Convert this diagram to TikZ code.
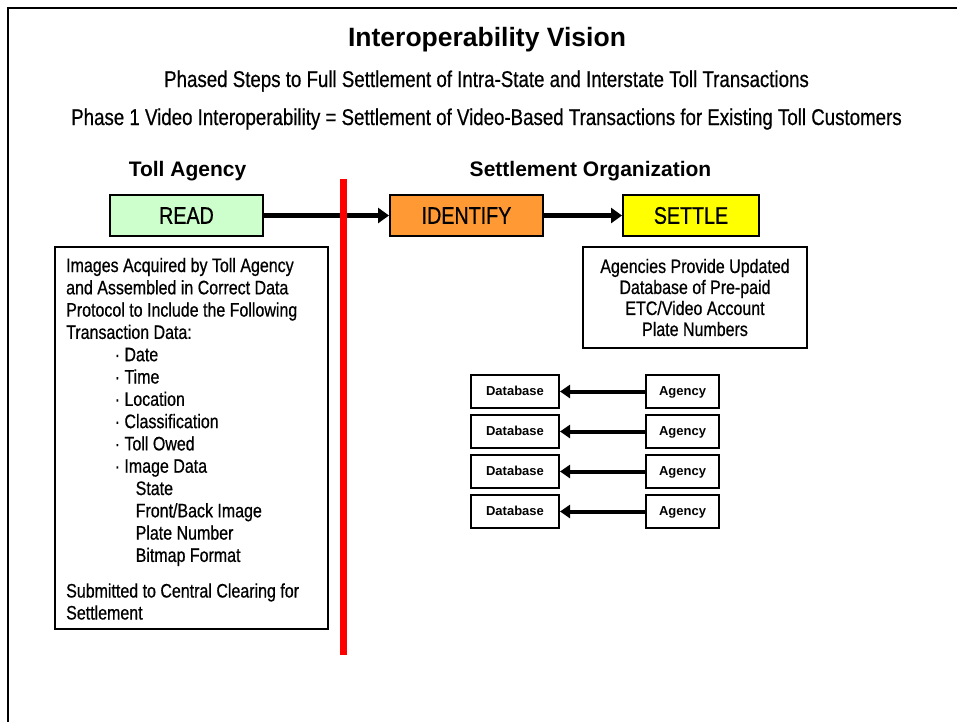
\documentclass[tikz,border=0pt]{standalone}
\usepackage{fontspec}
\setmainfont{Liberation Sans}
\newfontfamily\narrowfont[FakeStretch=0.82,FakeBold=0.6]{Liberation Sans}
\usetikzlibrary{arrows.meta}
\definecolor{readgreen}{HTML}{CCFFCC}
\definecolor{idorange}{HTML}{FF9933}
\definecolor{settleyellow}{HTML}{FFFF00}
\definecolor{barred}{HTML}{FF0000}
\begin{document}
\begin{tikzpicture}[x=1pt,y=-1pt,
  frame/.style={line width=2.5pt,black},
  stagebox/.style={draw,line width=2pt,inner sep=0pt,minimum height=41pt,
    font=\narrowfont\fontsize{24}{28}\selectfont},
  infobox/.style={draw,line width=2pt,inner sep=0pt},
  flowarrow/.style={line width=4.5pt,-{Triangle[length=11pt,width=15pt]}},
  feedarrow/.style={line width=4pt,-{Triangle[length=10pt,width=13pt]}},
  minibox/.style={draw,line width=2pt,inner sep=0pt,minimum height=33pt,
    text height=9.5pt,text depth=2.5pt,
    font=\bfseries\fontsize{13}{15}\selectfont},
  heading/.style={anchor=base,inner sep=0pt,font=\bfseries\fontsize{21}{24}\selectfont},
  subhead/.style={anchor=base,inner sep=0pt,font=\narrowfont\fontsize{22.8}{26}\selectfont},
  bodytxt/.style={anchor=base west,inner sep=0pt,font=\narrowfont\fontsize{19.5}{22}\selectfont},
  redbar/.style={line width=7pt,barred}
]
\useasboundingbox (0,0) rectangle (957,721);

% page frame (top and left edges)
\coordinate (fbl) at (8,722);
\coordinate (ftl) at (8,8);
\coordinate (ftr) at (958,8);
\draw[frame] (fbl) -- (ftl) -- (ftr);

% titles
\node[anchor=base,inner sep=0pt,font=\bfseries\fontsize{26.5}{30}\selectfont] (title) at (487,46.5) {Interoperability Vision};
\node[subhead] (sub1) at (486.5,87) {Phased Steps to Full Settlement of Intra-State and Interstate Toll Transactions};
\node[subhead] (sub2) at (486.5,125) {Phase 1 Video Interoperability = Settlement of Video-Based Transactions for Existing Toll Customers};

% column headings
\node[heading] (tollhead) at (187.5,176.5) {Toll Agency};
\node[heading] (settlehead) at (590.5,176.5) {Settlement Organization};

% process stages
\node[stagebox,fill=readgreen,minimum width=153pt] (read) at (186.5,215.5) {READ};
\node[stagebox,fill=idorange,minimum width=153pt] (identify) at (466.5,215.5) {IDENTIFY};
\node[stagebox,fill=settleyellow,minimum width=136pt] (settle) at (691,215.5) {SETTLE};

\draw[flowarrow] (read.east) -- (identify.west);
\draw[flowarrow] (identify.east) -- (settle.west);

% boundary between toll agency and settlement organization
\coordinate (bartop) at (343,179);
\coordinate (barbot) at (343,655);
\draw[redbar] (bartop) -- (barbot);

% toll agency description
\node[infobox,minimum width=273pt,minimum height=382pt] (tollinfo) at (191.5,438) {};
\foreach \txt/\xx/\yy [count=\i] in {
  {Images Acquired by Toll Agency}/66/272,
  {and Assembled in Correct Data}/66/294.3,
  {Protocol to Include the Following}/66/316.6,
  {Transaction Data:}/66/338.9,
  {· Date}/114.5/361.2,
  {· Time}/114.5/383.5,
  {· Location}/114.5/405.8,
  {· Classification}/114.5/428.1,
  {· Toll Owed}/114.5/450.4,
  {· Image Data}/114.5/472.7,
  {State}/135.5/495,
  {Front/Back Image}/135.5/517.3,
  {Plate Number}/135.5/539.6,
  {Bitmap Format}/135.5/561.9,
  {Submitted to Central Clearing for}/66/597.5,
  {Settlement}/66/619.5}
  \node[bodytxt] (tollline\i) at (\xx,\yy) {\txt};

% settlement description
\node[infobox,minimum width=224pt,minimum height=101pt,align=center,
  font=\narrowfont\fontsize{19.5}{21}\selectfont] (settleinfo) at (695,297.5)
  {Agencies Provide Updated\\Database of Pre-paid\\ETC/Video Account\\Plate Numbers};

% agency feeds into database
\foreach \i/\yy in {1/391.5,2/431.5,3/471.5,4/511.5}{
  \node[minibox,minimum width=88pt] (db\i) at (515,\yy) {Database};
  \node[minibox,minimum width=73pt] (ag\i) at (682.5,\yy) {Agency};
  \draw[feedarrow] (ag\i.west) -- (db\i.east);
}
\end{tikzpicture}
\end{document}
